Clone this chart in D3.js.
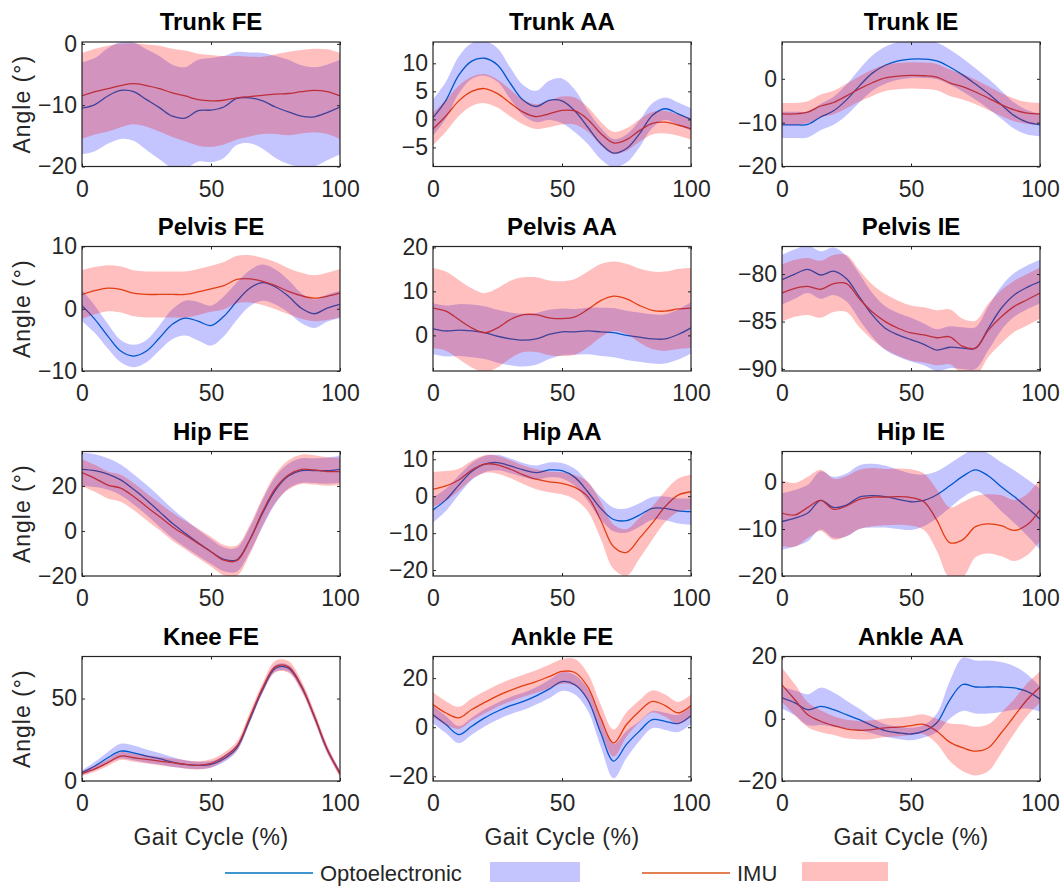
<!DOCTYPE html>
<html>
<head>
<meta charset="utf-8">
<script src="https://cdn.jsdelivr.net/npm/d3@7"></script>
<style>
  html, body { margin: 0; padding: 0; background: #fff; }
  svg text { font-family: "Liberation Sans", Arial, Helvetica, sans-serif; }
</style>
</head>
<body>
<svg id="fig" width="1064" height="888"></svg>
<script>
// Gait cycle sample points (%)
const gait = [0,5,10,15,20,25,30,35,40,45,50,55,60,65,70,75,80,85,90,95,100];

const panelTitles = ["Trunk FE","Trunk AA","Trunk IE","Pelvis FE","Pelvis AA","Pelvis IE",
                     "Hip FE","Hip AA","Hip IE","Knee FE","Ankle FE","Ankle AA"];

// Mean and SD curves (degrees), optoelectronic vs IMU
const trunkFE_opto   = [-10.5,-9.9,-8.5,-7.6,-7.8,-9.1,-10.4,-11.8,-12.1,-10.9,-10.8,-10.3,-8.9,-8.8,-9.3,-10.3,-11.1,-11.8,-11.9,-11.2,-10.3];
const trunkFE_optoSD = [7.5,7.6,7.8,7.9,8.0,8.2,8.4,8.4,8.3,8.3,8.5,8.3,7.6,7.4,7.8,8.3,8.5,8.3,8.1,7.8,7.7];
const trunkFE_imu    = [-8.5,-7.8,-7.3,-6.8,-6.5,-6.8,-7.3,-8.0,-8.5,-9.1,-9.3,-9.2,-8.8,-8.6,-8.4,-8.2,-8.1,-7.8,-7.6,-7.8,-8.5];
const trunkFE_imuSD  = [7.0,7.0,7.0,6.8,6.6,6.7,7.0,7.2,7.4,7.5,7.5,7.2,6.8,6.5,6.3,6.5,6.8,6.8,6.8,6.9,7.0];

const trunkAA_opto   = [0.3,3.4,7.9,10.4,10.9,9.7,6.4,3.4,2.3,3.4,3.3,1.5,-1.4,-4.3,-6.0,-5.2,-2.6,0.7,1.9,1.0,0.0];
const trunkAA_optoSD = [3.2,3.3,3.3,3.2,3.1,3.0,2.8,2.7,2.8,3.5,4.0,3.8,3.0,2.8,2.5,2.5,2.4,2.2,2.0,2.0,2.0];
const trunkAA_imu    = [-1.7,0.6,3.3,5.0,5.5,4.6,2.9,1.3,0.5,1.0,1.6,1.5,0.0,-2.5,-4.2,-3.6,-2.0,-0.7,-0.5,-1.0,-1.7];
const trunkAA_imuSD  = [2.9,2.8,2.7,2.6,2.6,2.5,2.4,2.2,2.2,2.4,2.5,2.4,2.2,2.1,2.0,2.0,2.0,2.0,2.0,1.9,1.9];

const trunkIE_opto   = [-10.5,-10.5,-10.4,-8.7,-7.3,-4.8,-1.6,1.3,3.1,4.1,4.5,4.5,4.1,2.7,0.9,-1.2,-3.4,-5.9,-8.4,-9.9,-10.5];
const trunkIE_optoSD = [3.0,3.0,3.0,3.0,3.2,3.5,3.8,4.0,4.2,4.3,4.3,4.3,4.2,4.0,3.8,3.6,3.4,3.2,3.0,2.8,2.6];
const trunkIE_imu    = [-8.0,-8.0,-7.6,-6.2,-5.4,-3.9,-2.3,-0.9,0.2,0.6,0.8,0.7,0.4,-0.9,-1.8,-3.0,-4.4,-5.9,-7.1,-7.8,-8.0];
const trunkIE_imuSD  = [2.5,2.5,2.5,2.6,2.7,2.8,2.9,3.0,3.0,3.0,3.0,3.0,3.0,3.0,2.9,2.8,2.7,2.6,2.6,2.5,2.5];

const pelvisFE_opto   = [0.5,-1.7,-4.4,-6.8,-7.6,-6.8,-4.7,-2.5,-1.5,-2.0,-2.7,-1.2,1.2,3.3,4.2,3.5,2.0,0.1,-0.8,0.1,0.7];
const pelvisFE_optoSD = [2.5,2.2,2.0,1.8,1.8,1.8,2.0,2.4,2.8,3.1,3.2,3.2,3.0,2.9,2.9,2.8,2.6,2.4,2.3,2.2,2.2];
const pelvisFE_imu    = [2.3,2.9,3.3,3.1,2.5,2.3,2.3,2.3,2.3,2.7,3.2,3.7,4.7,4.8,4.4,3.7,2.8,2.1,1.7,2.0,2.5];
const pelvisFE_imuSD  = [3.9,3.8,3.7,3.7,3.7,3.7,3.7,3.7,3.7,3.7,3.7,3.8,3.8,3.8,3.8,3.8,3.7,3.7,3.7,3.8,3.9];

const pelvisAA_opto   = [1.5,1.0,1.2,1.0,0.6,-0.2,-0.8,-1.1,-0.8,0.2,0.8,0.8,1.0,0.8,0.6,0.0,-0.4,-0.8,-0.8,0.2,1.7];
const pelvisAA_optoSD = [5.8,5.8,5.9,6.0,6.0,6.0,6.0,6.0,5.9,5.6,5.3,5.2,5.3,5.5,5.6,5.6,5.6,5.6,5.6,5.7,5.8];
const pelvisAA_imu    = [6.2,5.5,3.6,1.7,0.6,1.7,3.6,4.7,4.7,4.0,3.8,4.2,5.9,7.9,8.9,8.3,6.8,5.7,5.5,6.0,6.2];
const pelvisAA_imuSD  = [9.1,9.0,9.0,9.0,9.0,9.0,8.8,8.5,8.5,8.5,8.5,8.6,8.6,8.3,7.9,8.0,8.4,8.8,9.0,9.1,9.1];

const pelvisIE_opto   = [-80.6,-80.0,-79.5,-80.1,-79.7,-80.5,-82.4,-84.3,-85.7,-86.4,-86.9,-87.4,-88.0,-87.7,-87.8,-87.8,-85.7,-83.6,-82.2,-81.4,-80.8];
const pelvisIE_optoSD = [2.6,2.6,2.5,2.5,2.5,2.4,2.4,2.3,2.3,2.3,2.3,2.2,2.2,2.2,2.2,2.2,2.3,2.3,2.3,2.3,2.3];
const pelvisIE_imu    = [-82.0,-81.5,-81.3,-81.6,-81.0,-81.0,-82.6,-84.0,-85.0,-85.7,-86.2,-86.4,-86.7,-86.6,-87.6,-87.8,-85.9,-84.5,-83.4,-82.7,-82.0];
const pelvisIE_imuSD  = [3.0,3.0,3.0,3.0,3.0,3.0,3.0,2.9,2.9,2.9,2.9,2.9,2.9,2.9,2.9,2.9,2.8,2.8,2.7,2.7,2.7];

const hipFE_opto   = [27.4,26.8,25.3,22.7,18.5,13.8,8.6,3.4,-1.0,-5.2,-9.2,-12.6,-12.8,-4.0,7.9,18.2,24.4,26.8,26.8,26.8,27.4];
const hipFE_optoSD = [7.5,7.3,7.0,6.8,6.7,6.7,6.7,6.5,6.2,5.8,5.5,5.3,5.3,5.5,6.0,6.0,5.5,5.5,5.5,5.8,6.0];
const hipFE_imu    = [25.9,23.4,20.4,19.0,15.3,10.8,6.4,1.9,-1.8,-5.5,-9.2,-13.0,-13.2,-4.0,8.6,19.0,24.9,27.4,27.1,26.4,26.4];
const hipFE_imuSD  = [6.0,6.0,6.0,6.0,6.0,6.0,6.0,6.2,6.3,6.5,6.6,6.8,6.8,6.5,6.3,6.3,6.5,6.5,6.5,6.3,6.0];

const hipAA_opto   = [-3.7,-1.0,3.0,6.7,8.7,9.1,8.2,7.1,6.4,7.1,6.9,5.1,1.2,-3.3,-6.3,-6.6,-5.1,-3.3,-3.3,-4.0,-4.2];
const hipAA_optoSD = [3.4,3.0,2.6,2.3,2.2,2.1,2.0,1.9,1.9,2.0,2.1,2.3,2.6,3.0,3.2,3.3,3.2,3.1,3.2,3.4,3.6];
const hipAA_imu    = [1.9,2.8,4.4,7.1,8.7,8.5,7.3,5.8,4.6,3.9,3.5,2.4,-0.1,-6.5,-13.7,-15.2,-11.4,-7.3,-2.8,0.3,1.2];
const hipAA_imuSD  = [4.7,4.0,3.0,2.5,2.4,2.4,2.4,2.5,2.7,2.8,3.0,3.3,4.0,5.0,6.0,6.3,5.5,4.5,4.2,4.5,4.7];

const hipIE_opto   = [-8.4,-7.7,-6.6,-3.9,-5.4,-4.9,-3.2,-2.9,-3.1,-3.7,-4.2,-3.9,-2.7,-0.8,1.2,2.6,1.3,-1.0,-3.1,-5.4,-7.9];
const hipIE_optoSD = [6.0,6.0,6.0,6.2,6.5,6.7,6.8,6.8,6.6,6.3,6.0,5.5,5.0,4.7,4.5,4.5,4.8,5.2,5.6,6.0,6.5];
const hipIE_imu    = [-6.6,-7.0,-5.4,-3.9,-5.8,-5.1,-3.7,-3.2,-3.2,-3.1,-3.3,-4.2,-8.1,-12.9,-12.3,-9.5,-8.9,-9.3,-10.3,-9.1,-5.9];
const hipIE_imuSD  = [7.0,6.8,6.5,6.5,6.5,6.4,6.3,6.2,6.0,6.0,6.0,6.0,6.5,7.5,8.0,6.5,6.3,6.5,6.5,6.5,6.7];

const kneeFE_opto   = [5.0,9.1,14.1,18.1,17.1,15.1,13.5,11.5,10.1,9.5,10.1,13.5,20.1,37.2,55.3,68.4,68.4,57.3,39.2,19.1,5.0];
const kneeFE_optoSD = [1.5,2.5,3.5,4.5,4.5,4.0,3.5,3.0,2.5,2.2,2.0,2.0,2.0,2.0,2.0,2.0,2.0,2.0,2.0,2.0,1.5];
const kneeFE_imu    = [4.6,7.4,11.1,15.1,14.1,13.1,12.1,11.1,10.1,9.5,10.7,14.7,21.1,38.5,56.5,69.4,69.2,57.8,39.6,19.5,4.2];
const kneeFE_imuSD  = [1.5,1.8,2.0,2.3,2.5,2.5,2.5,2.5,2.5,2.5,2.5,2.5,2.8,3.0,3.0,3.5,3.5,3.2,3.0,2.5,2.0];

const ankleFE_opto   = [5.1,1.1,-3.0,0.4,3.8,6.5,8.8,10.5,12.8,15.5,18.6,17.3,11.2,-2.3,-13.8,-7.0,-1.6,3.1,2.4,1.5,4.7];
const ankleFE_optoSD = [3.5,3.5,3.5,3.5,3.5,3.5,3.5,3.5,3.5,3.7,3.8,4.0,4.5,5.5,7.0,5.5,4.0,3.5,3.5,3.5,3.5];
const ankleFE_imu    = [9.2,5.8,3.8,7.2,10.1,12.8,15.0,16.9,18.6,20.6,22.7,22.3,16.4,3.8,-6.4,1.1,6.5,10.5,8.8,5.8,8.8];
const ankleFE_imuSD  = [5.0,4.8,4.5,4.5,4.5,4.5,4.5,4.5,4.6,4.8,5.0,5.5,5.5,5.5,5.5,5.0,4.5,4.5,4.5,4.5,4.5];

const ankleAA_opto   = [6.7,5.1,2.9,4.0,2.9,1.3,-0.3,-2.2,-3.8,-4.5,-4.9,-4.0,-1.3,6.0,11.0,10.2,10.2,10.2,9.9,8.8,6.3];
const ankleAA_optoSD = [3.5,4.0,5.0,6.0,5.5,4.5,3.5,2.5,2.0,2.0,2.0,2.0,3.0,6.0,8.5,8.5,8.5,8.0,7.0,5.5,4.0];
const ankleAA_imu    = [10.9,6.1,1.3,-0.8,-2.2,-3.3,-3.7,-3.5,-2.9,-2.7,-2.2,-1.8,-4.0,-7.5,-9.3,-10.4,-9.3,-4.5,0.8,6.1,10.2];
const ankleAA_imuSD  = [5.5,5.0,4.0,3.5,3.0,3.0,3.0,3.0,3.0,3.0,3.0,3.2,4.0,6.0,7.5,7.8,7.5,6.5,5.5,5.2,5.0];

// Y-axis limits and tick values per panel
const yLimits = [[-20,0.3],[-8.4,13.8],[-20,8.4],[-10,10],[-8.1,20.2],[-90.2,-77.1],
                 [-20,35.3],[-21.6,12.1],[-20,6.5],[0,75.5],[-21.9,28.8],[-20,20]];
const yTickValues = [[-20,-10,0],[-5,0,5,10],[-20,-10,0],[-10,0,10],[0,10,20],[-90,-85,-80],
                     [-20,0,20],[-20,-10,0,10],[-20,-10,0],[0,50],[-20,0,20],[-20,0,20]];
const xTickValues = [0,50,100];

const optoMeans = [trunkFE_opto,trunkAA_opto,trunkIE_opto,pelvisFE_opto,pelvisAA_opto,pelvisIE_opto,
                   hipFE_opto,hipAA_opto,hipIE_opto,kneeFE_opto,ankleFE_opto,ankleAA_opto];
const optoSDs   = [trunkFE_optoSD,trunkAA_optoSD,trunkIE_optoSD,pelvisFE_optoSD,pelvisAA_optoSD,pelvisIE_optoSD,
                   hipFE_optoSD,hipAA_optoSD,hipIE_optoSD,kneeFE_optoSD,ankleFE_optoSD,ankleAA_optoSD];
const imuMeans  = [trunkFE_imu,trunkAA_imu,trunkIE_imu,pelvisFE_imu,pelvisAA_imu,pelvisIE_imu,
                   hipFE_imu,hipAA_imu,hipIE_imu,kneeFE_imu,ankleFE_imu,ankleAA_imu];
const imuSDs    = [trunkFE_imuSD,trunkAA_imuSD,trunkIE_imuSD,pelvisFE_imuSD,pelvisAA_imuSD,pelvisIE_imuSD,
                   hipFE_imuSD,hipAA_imuSD,hipIE_imuSD,kneeFE_imuSD,ankleFE_imuSD,ankleAA_imuSD];

// Layout
const colLeft = [82, 433, 782];
const rowTop  = [42, 246.5, 451.5, 656.5];
const W = 258, H = 124.5;

const optoLine = "#0072BD", imuLine = "#D95319";
const optoBand = "rgb(0,0,255)", imuBand = "rgb(255,0,0)";
const optoAlpha = 0.23, imuAlpha = 0.25;
const textColor = "#262626";
const tickFont = 23, labelFont = 23, titleFont = 24, legendFont = 22;

const svg = d3.select("#fig");
const defs = svg.append("defs");

panelTitles.forEach((title, i) => {
  const col = i % 3, row = Math.floor(i / 3);
  const g = svg.append("g").attr("transform", `translate(${colLeft[col]},${rowTop[row]})`);

  const x = d3.scaleLinear().domain([0, 100]).range([0, W]);
  const y = d3.scaleLinear().domain(yLimits[i]).range([H, 0]);

  defs.append("clipPath").attr("id", `clip${i}`)
    .append("rect").attr("x", 0).attr("y", 0).attr("width", W).attr("height", H);

  const plot = g.append("g").attr("clip-path", `url(#clip${i})`);

  const rows = (mean, sd) => gait.map((p, j) => ({ p, m: mean[j], s: sd[j] }));
  const opto = rows(optoMeans[i], optoSDs[i]);
  const imu  = rows(imuMeans[i], imuSDs[i]);

  const curve = d3.curveCatmullRom.alpha(0.5);
  const line = d3.line().x(d => x(d.p)).y(d => y(d.m)).curve(curve);
  const band = d3.area().x(d => x(d.p)).y0(d => y(d.m - d.s)).y1(d => y(d.m + d.s)).curve(curve);

  // mean curves first, translucent bands laid over them
  plot.append("path").attr("d", line(opto)).attr("fill", "none")
    .attr("stroke", optoLine).attr("stroke-width", 1.3);
  plot.append("path").attr("d", line(imu)).attr("fill", "none")
    .attr("stroke", imuLine).attr("stroke-width", 1.3);
  plot.append("path").attr("d", band(opto)).attr("fill", optoBand).attr("fill-opacity", optoAlpha);
  plot.append("path").attr("d", band(imu)).attr("fill", imuBand).attr("fill-opacity", imuAlpha);

  // axes
  const styleAxis = sel => {
    sel.select(".domain").remove();
    sel.selectAll("line").attr("stroke", textColor);
    sel.selectAll("text").attr("fill", textColor).attr("font-size", tickFont)
      .attr("font-family", '"Liberation Sans", Arial, sans-serif');
  };
  g.append("g").attr("transform", `translate(0,${H})`)
    .call(d3.axisBottom(x).tickValues(xTickValues).tickSize(-3).tickPadding(14).tickFormat(d3.format("d")))
    .call(styleAxis);
  g.append("g")
    .call(d3.axisLeft(y).tickValues(yTickValues[i]).tickSize(-3).tickPadding(5).tickFormat(d3.format("d")))
    .call(styleAxis);
  g.append("g")
    .call(d3.axisTop(x).tickValues(xTickValues).tickSize(-3).tickFormat(""))
    .call(styleAxis);
  g.append("g").attr("transform", `translate(${W},0)`)
    .call(d3.axisRight(y).tickValues(yTickValues[i]).tickSize(-3).tickFormat(""))
    .call(styleAxis);

  g.append("rect").attr("x", 0).attr("y", 0).attr("width", W).attr("height", H)
    .attr("fill", "none").attr("stroke", textColor).attr("stroke-width", 1.2);

  g.append("text").attr("x", W / 2).attr("y", -12).attr("text-anchor", "middle")
    .attr("font-size", titleFont).attr("font-weight", "bold").attr("fill", "#000").text(title);

  if (col === 0) {
    g.append("text").attr("transform", `translate(${30 - colLeft[0]},${H / 2}) rotate(-90)`)
      .attr("text-anchor", "middle").attr("font-size", labelFont).attr("fill", textColor)
      .attr("letter-spacing", 1).text("Angle (°)");
  }
  if (row === 3) {
    g.append("text").attr("x", W / 2).attr("y", H + 64).attr("text-anchor", "middle")
      .attr("font-size", labelFont).attr("fill", textColor).attr("letter-spacing", 0.5)
      .text("Gait Cycle (%)");
  }
});

// Legend
const legY = 873;
const legend = svg.append("g");
legend.append("line").attr("x1", 225).attr("x2", 313).attr("y1", legY).attr("y2", legY)
  .attr("stroke", optoLine).attr("stroke-width", 1.3);
legend.append("text").attr("x", 320).attr("y", legY).attr("dy", "0.35em")
  .attr("font-size", legendFont).attr("fill", textColor).text("Optoelectronic");
legend.append("rect").attr("x", 490).attr("y", 862).attr("width", 90).attr("height", 20)
  .attr("fill", optoBand).attr("fill-opacity", optoAlpha);
legend.append("line").attr("x1", 642).attr("x2", 730).attr("y1", legY).attr("y2", legY)
  .attr("stroke", imuLine).attr("stroke-width", 1.3);
legend.append("text").attr("x", 737).attr("y", legY).attr("dy", "0.35em")
  .attr("font-size", legendFont).attr("fill", textColor).text("IMU");
legend.append("rect").attr("x", 802).attr("y", 862).attr("width", 86).attr("height", 19)
  .attr("fill", imuBand).attr("fill-opacity", imuAlpha);
</script>
</body>
</html>
